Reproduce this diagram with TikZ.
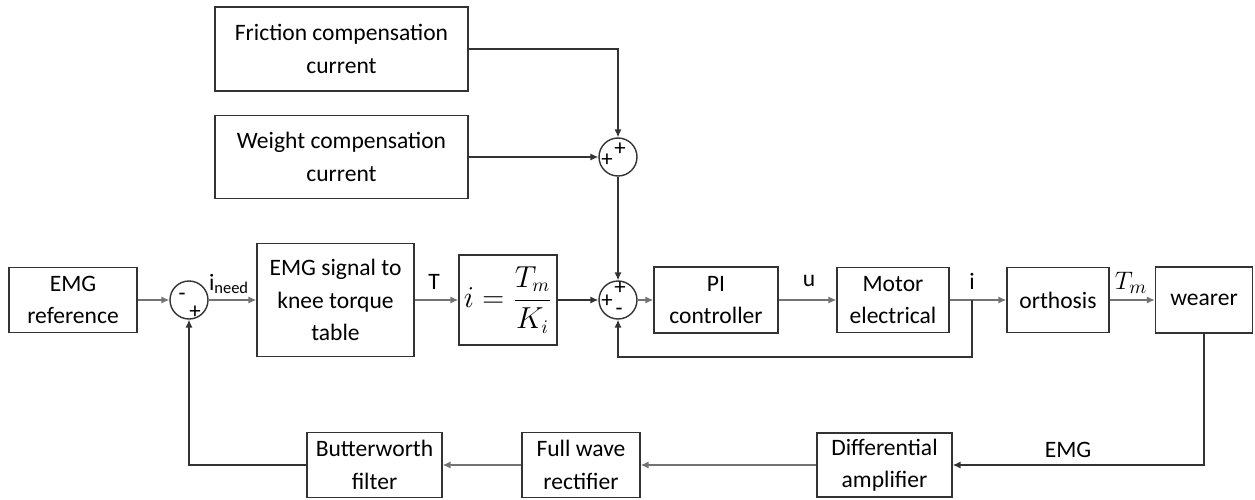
\documentclass[tikz,border=0pt]{standalone}
\usepackage{amsmath}
\usepackage{fontspec}
\setmainfont{Carlito}
\usepackage{tikz}
\usetikzlibrary{arrows.meta}

\begin{document}
\begin{tikzpicture}[x=0.02cm, y=-0.02cm,
  block/.style={rectangle, draw=black!80, line width=0.8pt, inner sep=0pt,
    align=center, font=\fontsize{13.4}{18.5}\selectfont},
  summer/.style={circle, draw=black!80, line width=0.8pt, minimum size=0.76cm, inner sep=0pt},
  sgn/.style={font=\fontsize{13}{13}\selectfont, inner sep=0pt},
  lbl/.style={font=\fontsize{13.4}{16}\selectfont, inner sep=0pt},
  arr/.style={-{Latex[length=4.5pt,width=4pt]}, line width=0.7pt, black!80},
  arrl/.style={-{Latex[length=4.5pt,width=4pt]}, line width=0.7pt, black!55},
]
\useasboundingbox (0,0) rectangle (1255,500);

\node[block, minimum width=5.06cm, minimum height=1.68cm] (fric) at (341.5,49)
  {Friction compensation\\current};
\node[block, minimum width=5.06cm, minimum height=1.66cm] (weight) at (341.5,157)
  {Weight compensation\\current};
\node[summer] (sumA) at (618,157) {};

\node[block, minimum width=2.56cm, minimum height=1.3cm] (ref) at (73,300)
  {EMG\\reference};
\node[summer] (sum1) at (189,300) {};
\node[block, minimum width=3.14cm, minimum height=2.26cm] (emgtab) at (335.5,300)
  {EMG signal to\\knee torque\\table};
\node[block, minimum width=1.96cm, minimum height=1.8cm, font=\fontsize{16}{18}\selectfont] (gain) at (508,300)
  {$i=\dfrac{T_m}{K_i}$};
\node[summer] (sumB) at (618,300) {};
\node[block, minimum width=2.48cm, minimum height=1.32cm] (pi) at (716,300)
  {PI\\controller};
\node[block, minimum width=2.24cm, minimum height=1.3cm] (motor) at (893,300)
  {Motor\\electrical};
\node[block, minimum width=2.04cm, minimum height=1.3cm] (orth) at (1058,300)
  {orthosis};
\node[block, minimum width=1.94cm, minimum height=1.32cm] (wearer) at (1204,300)
  {wearer};

\node[block, minimum width=2.7cm, minimum height=1.28cm] (diff) at (884.5,465)
  {Differential\\amplifier};
\node[block, minimum width=2.36cm, minimum height=1.3cm] (fwr) at (581,465)
  {Full wave\\rectifier};
\node[block, minimum width=2.7cm, minimum height=1.3cm] (butter) at (374.5,465)
  {Butterworth\\filter};

\node[sgn] (s1m) at (182,297) {-};
\node[sgn] (s1p) at (195,312) {+};
\node[sgn] (sAt) at (620,149) {+};
\node[sgn] (sAl) at (607,160) {+};
\node[sgn] (sBt) at (620,288) {+};
\node[sgn] (sBl) at (607,301) {+};
\node[sgn] (sBm) at (619,312) {-};

\node[lbl] (lneed) at (229,284) {i\textsubscript{need}};
\node[lbl] (lT) at (434,282) {T};
\node[lbl] (lu) at (809,281) {u};
\node[lbl] (li) at (972,281) {i};
\node[lbl, font=\fontsize{15}{16}\selectfont] (lTm) at (1131,283) {$T_m$};
\node[lbl] (lemg) at (1068,450) {EMG};

\coordinate (br) at (972,300);

\draw[arrl] (ref) -- (sum1);
\draw[arrl] (sum1) -- (emgtab);
\draw[arrl] (emgtab) -- (gain);
\draw[arr] (gain) -- (sumB);
\draw[arr] (fric.east) -| (sumA.north);
\draw[arr] (weight.east) -- (sumA.west);
\draw[arr] (sumA) -- (sumB);
\draw[arrl] (sumB) -- (pi);
\draw[arrl] (pi) -- (motor);
\draw[arrl] (motor) -- (orth);
\draw[arr] (br) -- ++(0,57) -| (sumB.south);
\draw[arrl] (orth) -- (wearer);
\draw[arr] (wearer.south) |- (diff.east);
\draw[arrl] (diff) -- (fwr);
\draw[arrl] (fwr) -- (butter);
\draw[arr] (butter.west) -| (sum1.south);
\end{tikzpicture}
\end{document}
